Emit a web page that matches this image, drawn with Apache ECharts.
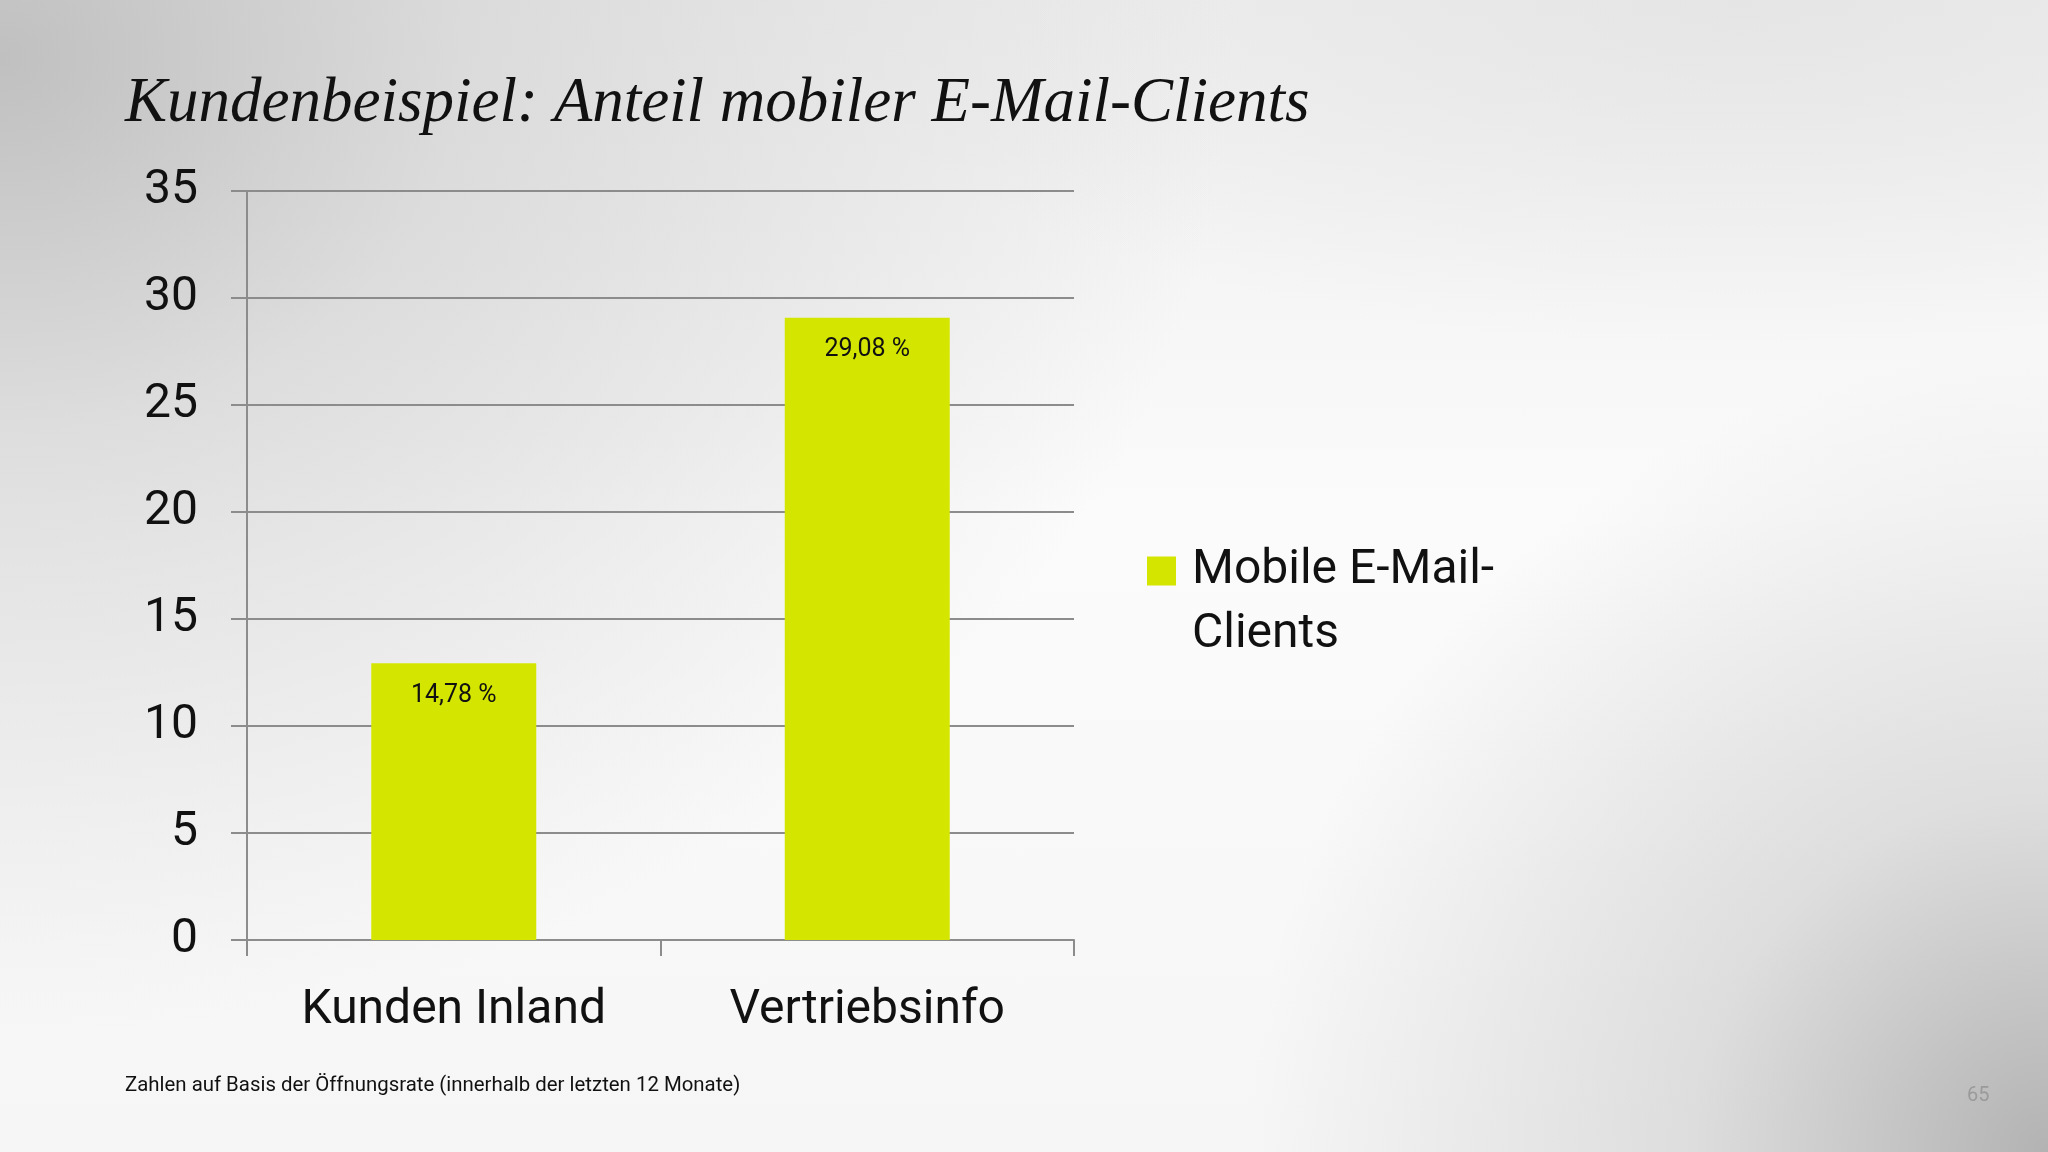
<!DOCTYPE html>
<html>
<head>
<meta charset="utf-8">
<script src="https://cdn.jsdelivr.net/npm/echarts@6/dist/echarts.min.js"></script>
<style>
  html, body { margin: 0; padding: 0; }
  body {
    width: 2048px; height: 1152px; overflow: hidden;
    background:
      radial-gradient(circle at 100% 100%, rgba(175,175,175,0.95) 0%, rgba(200,200,200,0.55) 15%, rgba(255,255,255,0) 34%),
      radial-gradient(ellipse 60% 85% at 0% 5%, rgba(192,192,192,1) 0%, rgba(212,212,212,0.75) 38%, rgba(255,255,255,0) 100%),
      radial-gradient(ellipse 45% 30% at 85% 0%, rgba(225,225,225,0.7) 0%, rgba(255,255,255,0) 100%),
      linear-gradient(#efefef, #fbfbfb 45%, #f6f6f6);
  }
  #chart { width: 2048px; height: 1152px; }
</style>
</head>
<body>
<div id="chart"></div>
<script>
// Werte
const categories = ['Kunden Inland', 'Vertriebsinfo'];
const values = [12.93, 29.08];              // Balkenhöhe wie gezeichnet
const valueLabels = ['14,78 %', '29,08 %']; // Beschriftung wie im Original
const seriesName = 'Mobile E-Mail-Clients';
const yTicks = { min: 0, max: 35, interval: 5 };

const chart = echarts.init(document.getElementById('chart'));

const gridColor = '#8c8c8c';
const sans = "'Liberation Sans Narrow', 'Arial Narrow', Roboto, sans-serif";

const option = {
  backgroundColor: 'transparent',
  animation: false,
  title: [
    {
      text: 'Kundenbeispiel: Anteil mobiler E-Mail-Clients',
      left: 125, top: 73, padding: 0,
      textStyle: { fontFamily: 'Liberation Serif', fontStyle: 'italic', fontWeight: 'normal', fontSize: 63, color: '#111' }
    },
    {
      text: 'Zahlen auf Basis der Öffnungsrate (innerhalb der letzten 12 Monate)',
      left: 125, top: 1076, padding: 0,
      textStyle: { fontFamily: 'Roboto', fontWeight: 'normal', fontSize: 20.4, color: '#111' }
    },
    {
      text: '65',
      left: 1967, top: 1086, padding: 0,
      textStyle: { fontFamily: 'Roboto', fontWeight: 'normal', fontSize: 20, color: '#9a9a9a' }
    }
  ],
  legend: {
    left: 1147, top: 539, padding: 0,
    // Quadrat oben, unsichtbarer Punkt unten -> erste Textzeile auf Höhe des Quadrats
    itemWidth: 29, itemHeight: 93,
    icon: 'path://M0,0L29,0L29,29L0,29Z M0,93L1,93',
    formatter: () => 'Mobile E-Mail-\nClients',
    textStyle: { fontFamily: 'Roboto', fontSize: 48, lineHeight: 64, color: '#111', padding: [0, 0, 0, 11] },
    data: [seriesName]
  },
  grid: { left: 247, right: 974, top: 191, bottom: 212 },
  xAxis: {
    type: 'category',
    data: categories,
    axisLine: { lineStyle: { color: gridColor, width: 2 } },
    axisTick: { show: true, length: 16, lineStyle: { color: gridColor, width: 2 } },
    axisLabel: { margin: 47, fontFamily: 'Roboto', fontSize: 48, color: '#111' }
  },
  yAxis: {
    type: 'value',
    min: yTicks.min, max: yTicks.max, interval: yTicks.interval,
    axisLine: { show: true, lineStyle: { color: gridColor, width: 2 } },
    axisTick: { show: true, length: 16, lineStyle: { color: gridColor, width: 2 } },
    splitLine: { lineStyle: { color: gridColor, width: 2 } },
    axisLabel: { margin: 49, fontFamily: sans, fontSize: 48, color: '#111', padding: [8, 0, 0, 0] }
  },
  series: [{
    name: seriesName,
    type: 'bar',
    data: values,
    barWidth: 165,
    itemStyle: { color: '#d4e600' },
    label: {
      show: true,
      position: 'insideTop',
      distance: 20,
      formatter: p => valueLabels[p.dataIndex],
      fontFamily: sans, fontSize: 25, color: '#111'
    }
  }]
};

chart.setOption(option);
</script>
</body>
</html>
